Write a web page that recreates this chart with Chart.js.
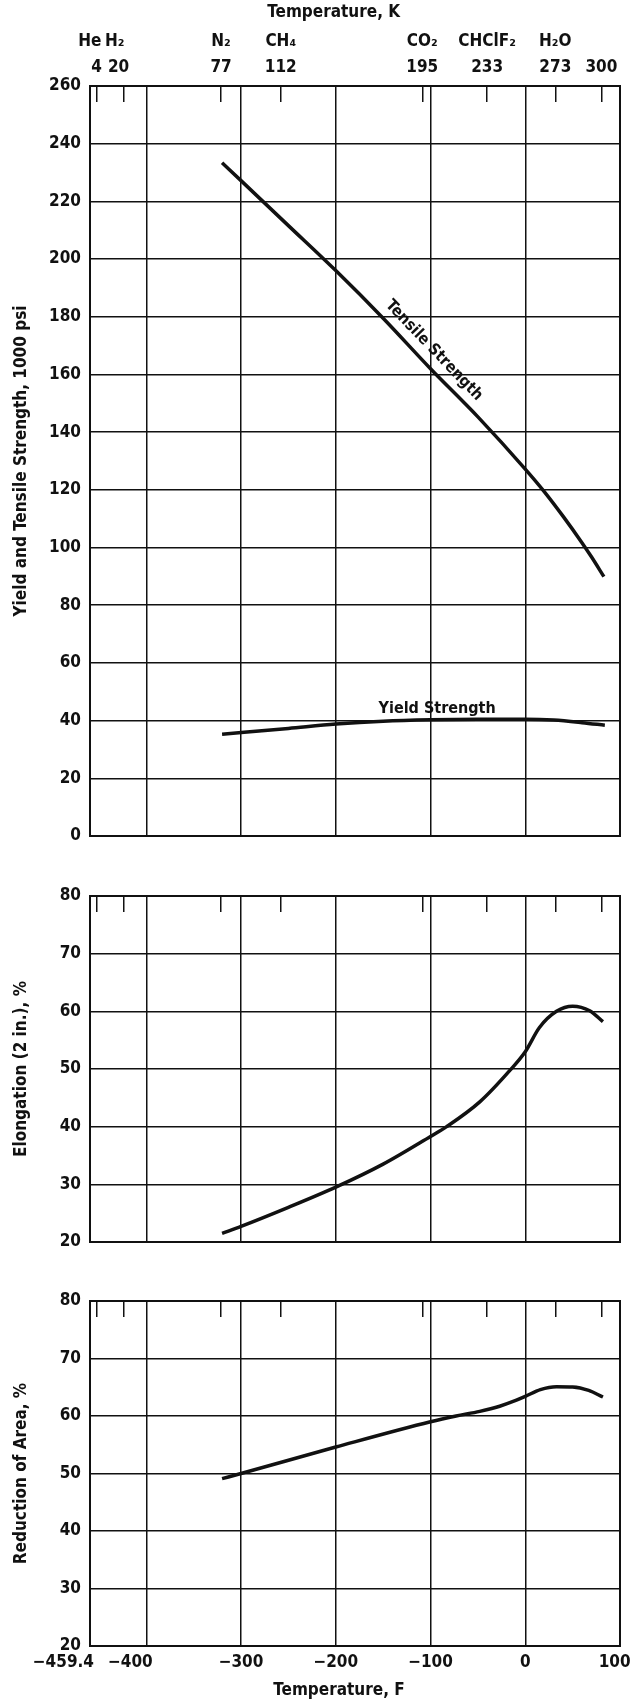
<!DOCTYPE html>
<html>
<head>
<meta charset="utf-8">
<title>Strength, elongation and reduction of area vs temperature</title>
<script src="https://cdn.jsdelivr.net/npm/chart.js@4.4.1/dist/chart.umd.min.js"></script>
<style>
  html, body { margin: 0; padding: 0; background: #fff; }
  #page { position: relative; width: 632px; height: 1704px; overflow: hidden; }
  canvas { position: absolute; left: 0; }
</style>
</head>
<body>
<div id="page">
  <canvas id="strength" width="650" height="860" style="top:0"></canvas>
  <canvas id="elong" width="650" height="410" style="top:860px"></canvas>
  <canvas id="area" width="650" height="434" style="top:1270px"></canvas>
</div>
<script>
// temperature axes
const fTicks = [-459.4, -400, -300, -200, -100, 0, 100];
const kelvinTicks = [4, 20, 77, 112, 195, 233, 273, 300];
const gasNames = ['He', 'H₂', 'N₂', 'CH₄', 'CO₂', 'CHClF₂', 'H₂O', ''];

// tensile and yield strength, 1000 psi
const tensileF = [-320, -300, -250, -200, -150, -100, -50, 0, 20, 40, 60, 70, 83];
const tensile = [233.4, 227.2, 211.6, 196, 179.5, 162, 145.3, 127.2, 119.4, 110.8, 101.6, 96.7, 89.9];
const yieldF = [-320, -250, -200, -150, -100, -50, 0, 30, 60, 84];
const yieldStr = [35.3, 37.3, 38.8, 39.8, 40.3, 40.5, 40.5, 40.2, 39.3, 38.4];

// elongation (2 in.), %
const elongF = [-320, -300, -250, -200, -150, -100, -83, -48, -16, 0, 15, 33, 50, 68, 82];
const elongation = [21.5, 22.7, 26, 29.5, 33.5, 38.3, 40, 44.3, 49.8, 53, 57.2, 60, 60.9, 60.1, 58.2];

// reduction of area, %
const areaF = [-320, -300, -200, -100, -73, -48, -27, -10, 0, 16, 33, 50, 67, 82];
const reduction = [49.1, 50, 54.6, 59, 60, 60.8, 61.7, 62.7, 63.4, 64.6, 65.1, 65.05, 64.45, 63.3];

const INK = '#111';
const FONT = "'DejaVu Sans Condensed', 'DejaVu Sans', sans-serif";
const FIG = '\u2007';   // figure space, used to nudge centred text sideways
const THIN = '\u2009';
Chart.defaults.font.family = FONT;
Chart.defaults.font.size = 17;
Chart.defaults.font.weight = 'bold';
Chart.defaults.color = INK;

function toF(k) {
  return k * 1.8 - 459.67;
}

// the crowded left labels sit a little left of their grid lines
function fLabel(v) {
  if (v === -459.4) return '\u2212459.4' + FIG.repeat(5);
  if (v === -400) return '\u2212400' + FIG.repeat(3);
  if (v === 100) return '100' + FIG;
  return v < 0 ? '\u2212' + Math.abs(v) : String(v);
}

// same idea for the two crowded kelvin labels at the far left
function kLabel(v, i) {
  let gas = gasNames[i], k = String(kelvinTicks[i]);
  if (i === 0) gas += FIG + THIN;
  if (i === 1) { gas += FIG + '\u2002'; k += FIG; }
  return [gas, k];
}

function series(xs, ys) {
  return {
    data: xs.map((x, i) => ({ x: x, y: ys[i] })),
    xAxisID: 'x',
    yAxisID: 'y',
    borderColor: INK,
    borderWidth: 3.5,
    pointRadius: 0,
    cubicInterpolationMode: 'monotone',
    fill: false
  };
}

// names written along the curves, anchored in data units
function curveLabels(items) {
  return {
    id: 'curveLabels',
    afterDatasetsDraw(chart) {
      const ctx = chart.ctx, x = chart.scales.x, y = chart.scales.y;
      items.forEach(it => {
        let angle = 0;
        if (it.along) {
          const a = it.along;
          angle = Math.atan2(y.getPixelForValue(a[3]) - y.getPixelForValue(a[1]),
                             x.getPixelForValue(a[2]) - x.getPixelForValue(a[0]));
        }
        ctx.save();
        ctx.translate(x.getPixelForValue(it.x), y.getPixelForValue(it.y));
        ctx.rotate(angle);
        ctx.font = 'bold 16px ' + FONT;
        ctx.fillStyle = INK;
        ctx.textAlign = 'center';
        ctx.textBaseline = 'alphabetic';
        ctx.fillText(it.text, 0, -it.gap);
        ctx.restore();
      });
    }
  };
}

function panel(id, opt) {
  return new Chart(document.getElementById(id), {
    type: 'line',
    data: { datasets: opt.datasets },
    options: {
      responsive: false,
      animation: false,
      events: [],
      layout: { padding: 0 },
      plugins: { legend: { display: false }, tooltip: { enabled: false } },
      scales: {
        x: {
          type: 'linear', axis: 'x', position: 'bottom', min: -459.4, max: 100,
          afterBuildTicks: s => { s.ticks = fTicks.map(v => ({ value: v })); },
          afterFit: s => { s.height = opt.bottom; },
          grid: { color: INK, lineWidth: 1.5, drawTicks: false },
          border: { color: INK, width: 2 },
          ticks: { display: opt.fLabels, autoSkip: false, maxRotation: 0, padding: 6, callback: fLabel },
          title: { display: opt.fLabels, text: 'Temperature, F' + FIG.repeat(3), padding: { top: 0, bottom: 3 } }
        },
        k: {
          type: 'linear', axis: 'x', position: 'top', min: -459.4, max: 100,
          afterBuildTicks: s => { s.ticks = kelvinTicks.map(k => ({ value: toF(k) })); },
          afterFit: s => { s.height = opt.top; },
          grid: { drawOnChartArea: false, color: INK, lineWidth: 1.5, tickLength: -16 },
          border: { color: INK, width: 2 },
          ticks: {
            display: opt.kLabels, autoSkip: false, maxRotation: 0, padding: 22,
            font: { lineHeight: 1.5 },
            callback: kLabel
          },
          title: { display: opt.kLabels, text: 'Temperature, K' + FIG.repeat(4), padding: { top: 2, bottom: 0 } }
        },
        y: {
          type: 'linear', axis: 'y', position: 'left', min: opt.min, max: opt.max,
          afterFit: s => { s.width = 90; },
          grid: { color: INK, lineWidth: 1.5, drawTicks: false },
          border: { color: INK, width: 2 },
          ticks: { stepSize: opt.step, padding: 9 },
          title: { display: true, text: opt.title, padding: { top: 11, bottom: 0 } }
        },
        r: {
          type: 'linear', axis: 'y', position: 'right', min: opt.min, max: opt.max,
          afterFit: s => { s.width = 30; },
          grid: { display: false },
          border: { color: INK, width: 2 },
          ticks: { display: false }
        }
      }
    },
    plugins: [curveLabels(opt.labels || [])]
  });
}

panel('strength', {
  top: 86, bottom: 24, min: 0, max: 260, step: 20,
  title: 'Yield and Tensile Strength, 1000 psi',
  kLabels: true, fLabels: false,
  datasets: [series(tensileF, tensile), series(yieldF, yieldStr)],
  labels: [
    { text: 'Tensile Strength', x: -108, y: 164.7, along: [-150, 179.5, -50, 145.3], gap: 11 },
    { text: 'Yield Strength', x: -93, y: 40.3, gap: 7 }
  ]
});

panel('elong', {
  top: 36, bottom: 28, min: 20, max: 80, step: 10,
  title: 'Elongation (2 in.), %',
  kLabels: false, fLabels: false,
  datasets: [series(elongF, elongation)]
});

panel('area', {
  top: 31, bottom: 58, min: 20, max: 80, step: 10,
  title: 'Reduction of Area, %',
  kLabels: false, fLabels: true,
  datasets: [series(areaF, reduction)]
});
</script>
</body>
</html>
